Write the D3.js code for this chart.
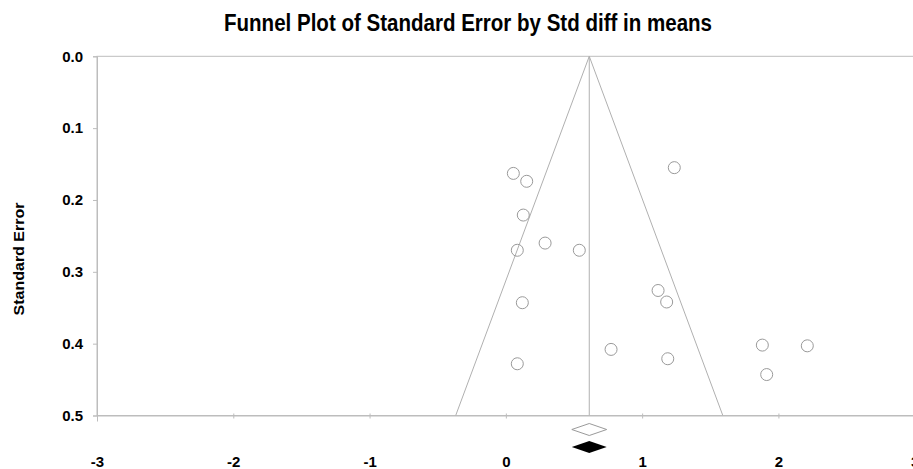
<!DOCTYPE html>
<html>
<head>
<meta charset="utf-8">
<script src="https://cdn.jsdelivr.net/npm/d3@7"></script>
<style>
  body { margin: 0; background: #fff; }
  text { font-family: "Liberation Sans", Arial, sans-serif; font-weight: bold; fill: #000; }
</style>
</head>
<body>
<svg id="chart" width="913" height="469"></svg>
<script>
// study effects (std diff in means) and their standard errors
let effects = [0.055, 0.153, 0.128, 0.084, 0.288, 0.539, 1.236, 0.121, 1.117, 1.180, 0.772, 0.084, 1.188, 1.882, 2.212, 1.914];
let stdErrors = [0.163, 0.174, 0.221, 0.270, 0.260, 0.270, 0.155, 0.343, 0.326, 0.342, 0.408, 0.428, 0.421, 0.402, 0.403, 0.443];
// combined estimate and its confidence interval (observed and imputed diamonds)
let pooled = [0.612, 0.484, 0.740];
let xTicks = [-3, -2, -1, 0, 1, 2, 3];
let yTicks = [0.0, 0.1, 0.2, 0.3, 0.4, 0.5];

let svg = d3.select("#chart");
let mLeft = 97, mRight = 914.7, mTop = 56.3, mBottom = 415.5;

let x = d3.scaleLinear().domain([-3, 3]).range([mLeft, mRight]);
let y = d3.scaleLinear().domain([0, 0.5]).range([mTop, mBottom]);

svg.append("text")
    .attr("x", 468).attr("y", 31)
    .attr("text-anchor", "middle")
    .attr("textLength", 488)
    .attr("lengthAdjust", "spacingAndGlyphs")
    .style("font-size", "23px")
    .text("Funnel Plot of Standard Error by Std diff in means");

// frame
svg.append("rect")
    .attr("x", mLeft).attr("y", mTop)
    .attr("width", mRight - mLeft).attr("height", mBottom - mTop)
    .attr("fill", "none").attr("stroke", "#bdbdbd").attr("stroke-width", 1);

// funnel
let maxSe = 0.5;
svg.append("path")
    .attr("d", d3.line()([[x(pooled[0] - 1.96 * maxSe), y(maxSe)], [x(pooled[0]), y(0)], [x(pooled[0] + 1.96 * maxSe), y(maxSe)]]))
    .attr("fill", "none").attr("stroke", "#b0b0b0").attr("stroke-width", 1);
svg.append("line")
    .attr("x1", x(pooled[0])).attr("x2", x(pooled[0]))
    .attr("y1", y(0)).attr("y2", y(maxSe))
    .attr("stroke", "#b0b0b0");

// axes
let yAxis = svg.append("g")
    .attr("transform", "translate(" + mLeft + ",0)")
    .call(d3.axisLeft(y).tickValues(yTicks).tickFormat(d3.format(".1f")).tickSize(4).tickPadding(10));
yAxis.select(".domain").attr("stroke", "#bdbdbd");
yAxis.selectAll(".tick line").attr("stroke", "#bdbdbd");
yAxis.selectAll("text").style("font-size", "15px").attr("font-family", null);

let xAxis = svg.append("g")
    .attr("transform", "translate(0," + mBottom + ")")
    .call(d3.axisBottom(x).tickValues(xTicks).tickFormat(d => String(d)));
xAxis.select(".domain").attr("stroke", "#bdbdbd");
xAxis.selectAll(".tick line").attr("stroke", "#bdbdbd").attr("y1", -2).attr("y2", 3);
xAxis.selectAll("text").style("font-size", "15px").attr("font-family", null).attr("y", 41);

svg.append("text")
    .attr("transform", "translate(24,259) rotate(-90) scale(1,0.89)")
    .attr("text-anchor", "middle")
    .style("font-size", "16px")
    .text("Standard Error");

// studies
svg.append("g").selectAll("circle")
    .data(effects)
    .enter().append("circle")
    .attr("cx", d => x(d))
    .attr("cy", (d, i) => y(stdErrors[i]))
    .attr("r", 6)
    .attr("fill", "none").attr("stroke", "#9a9a9a").attr("stroke-width", 1);

// diamonds
function diamond(cy, h) {
    return d3.line()([[x(pooled[1]), cy], [x(pooled[0]), cy - h], [x(pooled[2]), cy], [x(pooled[0]), cy + h]]) + "Z";
}
svg.append("path").attr("d", diamond(429.5, 6)).attr("fill", "#fff").attr("stroke", "#9a9a9a");
svg.append("path").attr("d", diamond(447, 6)).attr("fill", "#000");
</script>
</body>
</html>
